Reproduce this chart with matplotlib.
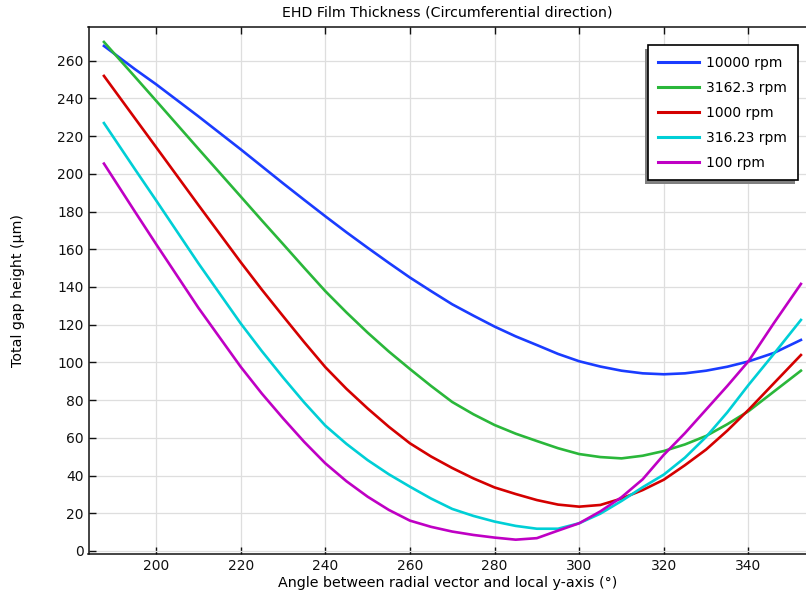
import matplotlib
matplotlib.use("Agg")
import matplotlib.pyplot as plt
from matplotlib.patches import Rectangle

# ---- data ----
angle = [187.7, 195, 200, 210, 220, 225, 230, 235, 240, 245, 250, 255, 260, 265,
         270, 275, 280, 285, 290, 295, 300, 305, 310, 315, 320, 325, 330, 335,
         340, 346, 352.4]

rpm_10000 = [267.8, 255.5, 247.5, 230.5, 213.0, 204.0, 195.0, 186.2, 177.5, 169.0,
             160.8, 152.8, 145.0, 137.8, 130.8, 124.8, 119.0, 113.8, 109.2, 104.5,
             100.6, 97.8, 95.6, 94.2, 93.7, 94.2, 95.6, 97.7, 100.5, 105.0, 111.9]
rpm_3162 = [269.9, 251.5, 238.8, 213.3, 188.0, 175.3, 162.8, 150.2, 137.8, 126.5,
            115.8, 105.8, 96.5, 87.5, 79.0, 72.5, 66.8, 62.2, 58.3, 54.5,
            51.4, 49.8, 49.1, 50.5, 53.0, 56.5, 61.0, 67.2, 74.1, 84.5, 95.6]
rpm_1000 = [251.9, 229.5, 214.2, 183.5, 153.2, 138.6, 124.6, 110.8, 97.5, 86.0,
            75.6, 65.9, 57.1, 50.1, 44.0, 38.5, 33.7, 30.2, 27.0, 24.6,
            23.5, 24.4, 27.8, 32.3, 37.8, 45.5, 53.8, 63.8, 74.8, 88.9, 103.9]
rpm_316 = [226.9, 202.5, 186.0, 152.6, 120.7, 106.0, 92.1, 78.8, 66.5, 56.8,
           48.2, 40.7, 34.1, 27.8, 22.3, 18.6, 15.6, 13.3, 11.8, 11.8,
           14.7, 19.8, 26.5, 33.8, 40.5, 49.5, 60.5, 73.5, 88.0, 104.5, 122.5]
rpm_100 = [205.4, 180.0, 162.8, 129.0, 97.7, 83.5, 70.4, 57.9, 46.5, 37.0,
           28.8, 21.8, 16.1, 12.8, 10.3, 8.5, 7.1, 6.0, 6.8, 10.8,
           14.7, 21.0, 28.5, 38.0, 51.0, 62.5, 75.0, 87.5, 100.6, 120.8, 141.6]

labels = ["10000 rpm", "3162.3 rpm", "1000 rpm", "316.23 rpm", "100 rpm"]
series = [rpm_10000, rpm_3162, rpm_1000, rpm_316, rpm_100]
colors = ["#1a3cff", "#2ab73a", "#d40000", "#00cfd6", "#bf00c4"]

xticks = [200, 220, 240, 260, 280, 300, 320, 340]
yticks = list(range(0, 261, 20))

# ---- figure ----
W, H = 806, 598
fig = plt.figure(figsize=(W / 100, H / 100), dpi=100)
ax = fig.add_axes([88.5 / W, 1 - 554 / H, 1 - 88.5 / W, (554 - 26.7) / H])

for y, lab, c in zip(series, labels, colors):
    ax.plot(angle, y, color=c, lw=1.9, label=lab, solid_joinstyle="round")

ax.set_xlim(184.05, 353.6)
ax.set_ylim(-1.6, 278)
ax.set_xticks(xticks)
ax.set_yticks(yticks)
ax.grid(True, color="#dedede", lw=0.9)
ax.set_axisbelow(True)
ax.tick_params(direction="in", top=True, right=False, length=5, width=1,
               labelsize=10, pad=3.5, colors="#111111")
for s in ["left", "bottom", "top"]:
    ax.spines[s].set_linewidth(1.1)
    ax.spines[s].set_color("#111111")
ax.spines["right"].set_visible(False)

ax.set_title("EHD Film Thickness (Circumferential direction)", fontsize=10.2, pad=7)
ax.set_xlabel("Angle between radial vector and local y-axis (°)", fontsize=10.3, labelpad=2)
ax.set_ylabel("Total gap height (µm)", fontsize=10.2, labelpad=23)

leg = ax.legend(loc="upper right", bbox_to_anchor=(797.7 / W, 1 - 45 / H),
                bbox_transform=fig.transFigure, fancybox=False, frameon=True,
                fontsize=10, handlelength=2.95, handletextpad=0.5,
                labelspacing=0.79, borderpad=0.77, borderaxespad=0)
leg.get_frame().set_edgecolor("black")
leg.get_frame().set_linewidth(1.2)
leg.get_frame().set_alpha(1)
leg.set_zorder(5)
for h in leg.get_lines():
    h.set_linewidth(2.2)

fig.canvas.draw()
bb = leg.get_window_extent()
inv = fig.transFigure.inverted()
(x0, y0), (x1, y1) = inv.transform([(bb.x0 - 3, bb.y0 - 4), (bb.x1 - 3, bb.y1 - 4)])
shadow = Rectangle((x0, y0), x1 - x0, y1 - y0, transform=fig.transFigure,
                   facecolor="#808080", edgecolor="none", zorder=4.5)
shadow.set_clip_on(False)
ax.add_artist(shadow)

fig.savefig("out.png", dpi=100)
